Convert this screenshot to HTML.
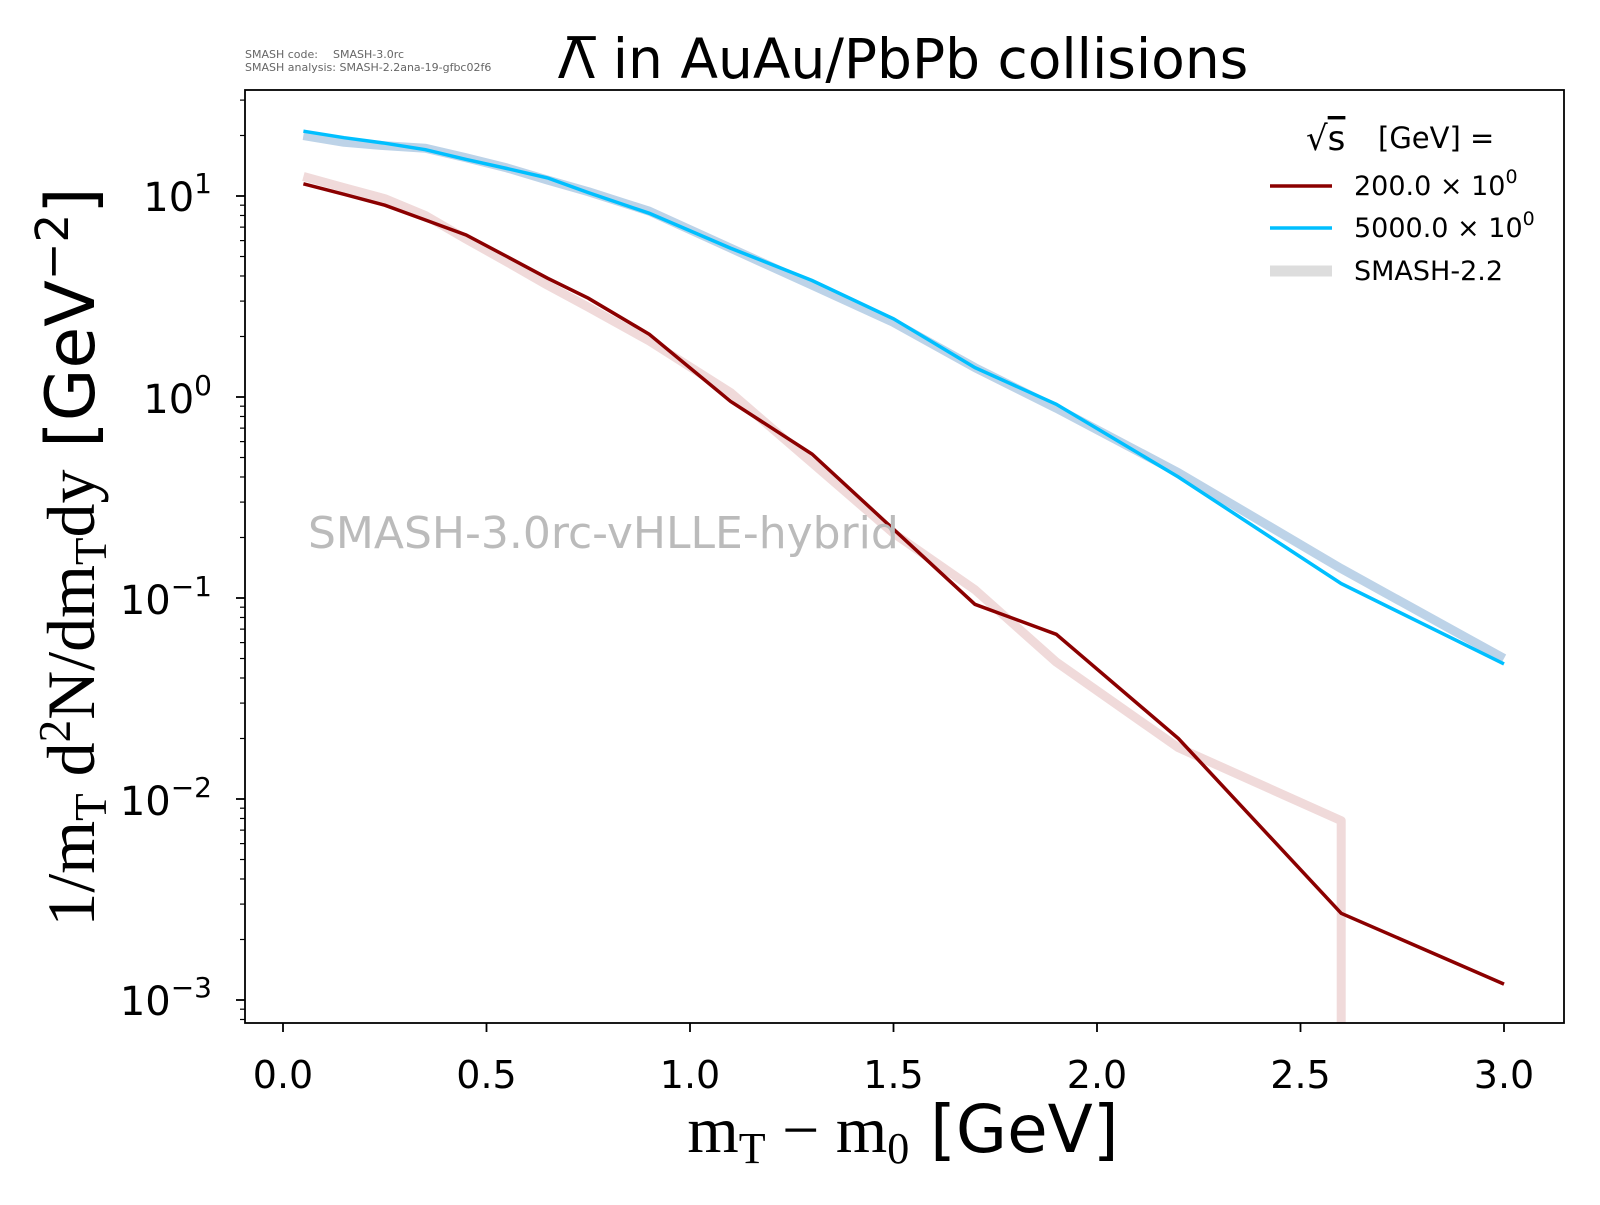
<!DOCTYPE html>
<html><head><meta charset="utf-8"><style>
body{margin:0;background:#fff;width:1600px;height:1200px;overflow:hidden}
svg text{font-family:"DejaVu Sans","Liberation Sans",sans-serif}
</style></head><body>
<svg id="s" width="1600" height="1200" xmlns="http://www.w3.org/2000/svg">
<rect width="1600" height="1200" fill="#fff"/>
<g id="plot"></g>
<rect x="245" y="90" width="1319" height="933" fill="none" stroke="#000" stroke-width="1.8"/>
<g id="ticks" stroke="#000"></g>
<text x="245" y="58" font-size="11" fill="#666">SMASH code:</text><text x="333" y="58" font-size="11" fill="#666">SMASH-3.0rc</text>
<text x="245" y="71" font-size="11" fill="#666">SMASH analysis: SMASH-2.2ana-19-gfbc02f6</text>
<text x="903" y="78" font-size="55" text-anchor="middle">Λ̅ in AuAu/PbPb collisions</text>
<text x="308" y="548" font-size="44" fill="#bbb">SMASH-3.0rc-vHLLE-hybrid</text>
<g font-size="40" text-anchor="end">
<text x="212" y="211">10<tspan dy="-18" font-size="28">1</tspan></text>
<text x="212" y="413">10<tspan dy="-18" font-size="28">0</tspan></text>
<text x="212" y="614">10<tspan dy="-18" font-size="28">−1</tspan></text>
<text x="212" y="815">10<tspan dy="-18" font-size="28">−2</tspan></text>
<text x="212" y="1015">10<tspan dy="-18" font-size="28">−3</tspan></text>
</g>
<g font-size="38" text-anchor="middle">
<text x="283" y="1088">0.0</text><text x="486.5" y="1088">0.5</text><text x="690" y="1088">1.0</text>
<text x="893.5" y="1088">1.5</text><text x="1097" y="1088">2.0</text><text x="1300.5" y="1088">2.5</text><text x="1504" y="1088">3.0</text>
</g>
<text x="903" y="1152" font-size="66" text-anchor="middle"><tspan font-family="Liberation Serif,serif">m<tspan font-size="44" dy="11">T</tspan><tspan dy="-11"> − m</tspan><tspan font-size="44" dy="11">0</tspan></tspan><tspan dy="-11"> [GeV]</tspan></text>
<text transform="translate(94,557) rotate(-90)" font-size="68" text-anchor="middle"><tspan font-family="Liberation Serif,serif">1/m<tspan font-size="45" dy="12">T</tspan><tspan dy="-12"> d</tspan><tspan font-size="45" dy="-24">2</tspan><tspan dy="24">N/dm</tspan><tspan font-size="45" dy="12">T</tspan><tspan dy="-12">dy</tspan></tspan> [GeV<tspan font-size="45" dy="-26">−2</tspan><tspan dy="26">]</tspan></text>
<text x="1306" y="150" font-size="34" font-family="Liberation Serif,serif">√<tspan text-decoration="overline">s</tspan></text>
<text x="1378" y="148" font-size="29">[GeV] =</text>
<line x1="1270" y1="186" x2="1332" y2="186" stroke="#8b0000" stroke-width="3.5"/>
<line x1="1270" y1="228" x2="1332" y2="228" stroke="#00bfff" stroke-width="3.5"/>
<line x1="1270" y1="271" x2="1332" y2="271" stroke="#ddd" stroke-width="11"/>
<g font-size="27"><text x="1354" y="195">200.0 × 10<tspan dy="-12" font-size="19">0</tspan></text>
<text x="1354" y="237">5000.0 × 10<tspan dy="-12" font-size="19">0</tspan></text>
<text x="1354" y="280">SMASH-2.2</text></g>
</svg>
<script>
const X=v=>283+v*407, Y=v=>1000-201*(Math.log10(v)+3);
const pth=(xs,ys)=>xs.map((x,i)=>(i?'L':'M')+X(x).toFixed(1)+','+Y(ys[i]).toFixed(1)).join(' ');
const xs=[0.05,0.15,0.25,0.35,0.45,0.55,0.65,0.75,0.9,1.1,1.3,1.5,1.7,1.9,2.2,2.6,3.0];
const red=[11.5,10.2,9,7.6,6.4,5,3.9,3.1,2.05,0.95,0.52,0.22,0.093,0.066,0.02,0.0027,0.0012];
const blue=[21,19.5,18.3,17,15.2,13.7,12.3,10.4,8.2,5.5,3.8,2.45,1.4,0.92,0.4,0.118,0.047];
const sred=[12.5,11,9.7,8,6.1,4.7,3.6,2.8,1.9,1.05,0.47,0.21,0.11,0.048,0.018,0.0078];
const sblue=[20,18.5,17.8,17.3,15.5,13.8,12,10.5,8.4,5.5,3.6,2.35,1.4,0.88,0.42,0.14,0.05];
let g=document.getElementById('plot'),h='';
let sr=pth(xs.slice(0,16),sred)+' L'+X(2.6)+',1023';
h+=`<path d="${sr}" fill="none" stroke="#f0dada" stroke-width="9" stroke-linejoin="round"/>`;
h+=`<path d="${pth(xs,sblue)}" fill="none" stroke="#bdd3e8" stroke-width="9" stroke-linejoin="round"/>`;
h+=`<path d="${pth(xs,red)}" fill="none" stroke="#8b0000" stroke-width="3.5"/>`;
h+=`<path d="${pth(xs,blue)}" fill="none" stroke="#00bfff" stroke-width="3.5"/>`;
g.innerHTML=h;
let t='';
for(let i=0;i<7;i++){let x=283+i*203.5;t+=`<line x1="${x}" y1="1023" x2="${x}" y2="1032" stroke-width="1.8"/>`;}
for(let d=-4;d<=1;d++)for(let m=1;m<10;m++){let y=Y(m*Math.pow(10,d));if(y<90||y>1023)continue;
t+=`<line x1="${m==1?236:240}" y1="${y}" x2="245" y2="${y}" stroke-width="${m==1?1.8:1.2}"/>`;}
document.getElementById('ticks').innerHTML=t;
</script>
</body></html>
